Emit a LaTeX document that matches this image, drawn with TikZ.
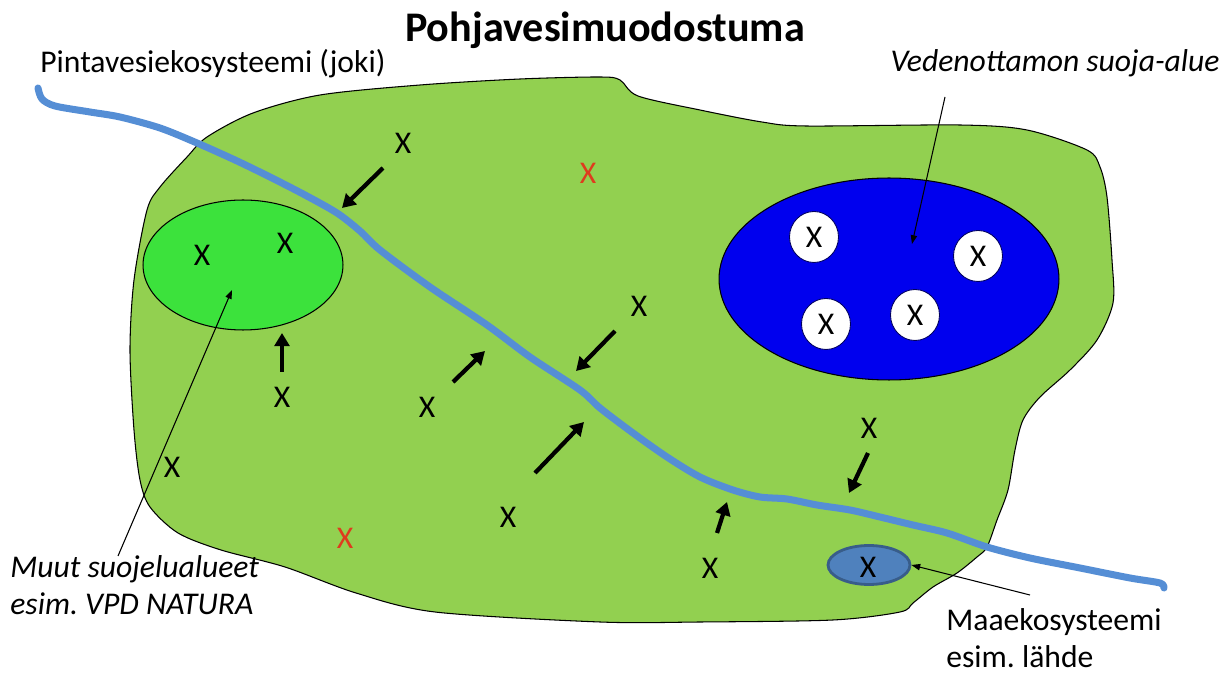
\documentclass[tikz,border=0pt]{standalone}
\usepackage{fontspec}
\setmainfont{Carlito}
\usetikzlibrary{shapes.geometric,arrows.meta}
\definecolor{land}{HTML}{92D050}
\definecolor{reserve}{RGB}{60,226,60}
\definecolor{intake}{RGB}{0,0,238}
\definecolor{spring}{HTML}{4F81BD}
\definecolor{springline}{HTML}{385D8A}
\definecolor{riverblue}{HTML}{558ED5}
\definecolor{alert}{RGB}{222,60,30}
\begin{document}
\begin{tikzpicture}[x=0.02cm,y=-0.02cm,
  xsign/.style={inner sep=0pt, font=\fontsize{18}{21}\selectfont},
  lbl/.style={inner sep=0pt, font=\fontsize{18}{21.5}\selectfont},
  flow/.style={line width=2.4pt, -{Triangle[length=7.5pt,width=8.5pt]}},
  leader/.style={line width=0.6pt, -{Triangle[length=5pt,width=3.6pt]}},
  well/.style={ellipse, draw=intake!40!black, line width=0.5pt, fill=white,
    minimum width=0.98cm, minimum height=1.02cm, inner sep=0pt,
    font=\fontsize{18}{21}\selectfont},
  river/.style={draw=riverblue, line width=4pt, line cap=round, line join=round}
]
\useasboundingbox (0,0) rectangle (1232,675);

% groundwater body
\draw[fill=land, line width=0.6pt] plot[smooth cycle, tension=0.5] coordinates {
  (147,210) (160,187) (187,157) (207,137) (253,113) (320,95) (420,85)
  (520,79) (600,77) (620,80) (638,96) (700,110) (762,122) (806,126)
  (960,125) (1027,130) (1087,150) (1100,167) (1107,197) (1112,260)
  (1113,303) (1097,340) (1070,370) (1040,397) (1023,420) (1015,450)
  (1008,490) (997,520) (987,547) (977,557) (957,573) (933,587) (913,603)
  (900,612) (833,620) (700,622) (600,622) (435,612) (356,593) (285,567)
  (221,550) (178,533) (150,507) (140,480) (134,430) (130,350) (134,280)};

% protected areas
\node[ellipse, draw, line width=0.6pt, fill=reserve, minimum width=4cm,
  minimum height=2.6cm, inner sep=0pt] (natura) at (243,265) {};
\node[ellipse, draw, line width=0.6pt, fill=intake, minimum width=6.8cm,
  minimum height=4.04cm, inner sep=0pt] (zone) at (889,279) {};
\node[ellipse, draw=springline, line width=1.6pt, fill=spring,
  minimum width=1.64cm, minimum height=0.78cm, inner sep=0pt] (spr) at (869,565) {};

% wells inside the intake protection zone
\node[well] (w1) at (814,237) {X};
\node[well] (w2) at (978,256) {X};
\node[well] (w3) at (826,324) {X};
\node[well] (w4) at (915,315) {X};

% river
\draw[river] plot[smooth, tension=0.5] coordinates {
  (38,88) (42,99) (55,106) (90,112) (120,117) (160,128) (197,143) (235,160)
  (270,177) (305,195) (337,213) (360,231) (380,250) (430,287) (487,325)
  (530,357) (580,390) (600,408) (633,433) (667,457) (700,477) (733,490)
  (760,497) (787,499) (817,505) (850,510) (880,517) (913,525) (947,533)
  (987,547) (1030,558) (1080,568) (1130,578) (1160,583) (1164,588)};

% pressures
\node[xsign] (xa) at (403,143) {X};
\node[xsign, text=alert] (xr1) at (588,173) {X};
\node[xsign] (xg1) at (202,255) {X};
\node[xsign] (xg2) at (285,243) {X};
\node[xsign] (xb) at (282,397) {X};
\node[xsign] (xc) at (427,407) {X};
\node[xsign] (xd) at (172,467) {X};
\node[xsign, text=alert] (xr2) at (345,538) {X};
\node[xsign] (xe) at (508,517) {X};
\node[xsign] (xf) at (639,306) {X};
\node[xsign] (xg) at (869,428) {X};
\node[xsign] (xh) at (710,568) {X};
\node[xsign] (xs) at (868,567) {X};

% flow arrows
\coordinate (a1s) at (383,168); \coordinate (a1e) at (342,208);
\coordinate (a2s) at (282,372); \coordinate (a2e) at (282,333);
\coordinate (a3s) at (453,382); \coordinate (a3e) at (485,351);
\coordinate (a4s) at (615,331); \coordinate (a4e) at (576,371);
\coordinate (a5s) at (535,473); \coordinate (a5e) at (584,422);
\coordinate (a6s) at (868,453); \coordinate (a6e) at (849,493);
\coordinate (a7s) at (717,533); \coordinate (a7e) at (727,502);
\draw[flow] (a1s) -- (a1e);
\draw[flow] (a2s) -- (a2e);
\draw[flow] (a3s) -- (a3e);
\draw[flow] (a4s) -- (a4e);
\draw[flow] (a5s) -- (a5e);
\draw[flow] (a6s) -- (a6e);
\draw[flow] (a7s) -- (a7e);

% labels
\node[anchor=base, inner sep=0pt, font=\bfseries\fontsize{24}{28}\selectfont]
  (title) at (605,42) {Pohjavesimuodostuma};
\node[lbl, anchor=base west] (joki) at (40,73) {Pintavesiekosysteemi (joki)};
\node[lbl, anchor=base east, font=\fontsize{18}{21.5}\selectfont\itshape]
  (vedl) at (1220,72) {Vedenottamon suoja-alue};
\node[lbl, anchor=base west, align=left, font=\fontsize{18}{21.5}\selectfont\itshape]
  (muut) at (10,615) {Muut suojelualueet\\esim.\ VPD NATURA};
\node[lbl, anchor=base west, align=left] (maa) at (946,668) {Maaekosysteemi\\esim.\ lähde};

% leader lines
\coordinate (l1s) at (945,97);  \coordinate (l1e) at (912,244);
\coordinate (l2s) at (118,556); \coordinate (l2e) at (232,290);
\coordinate (l3s) at (1030,595);
\draw[leader] (l1s) -- (l1e);
\draw[leader] (l2s) -- (l2e);
\draw[leader] (l3s) -- (spr.east);
\end{tikzpicture}
\end{document}
